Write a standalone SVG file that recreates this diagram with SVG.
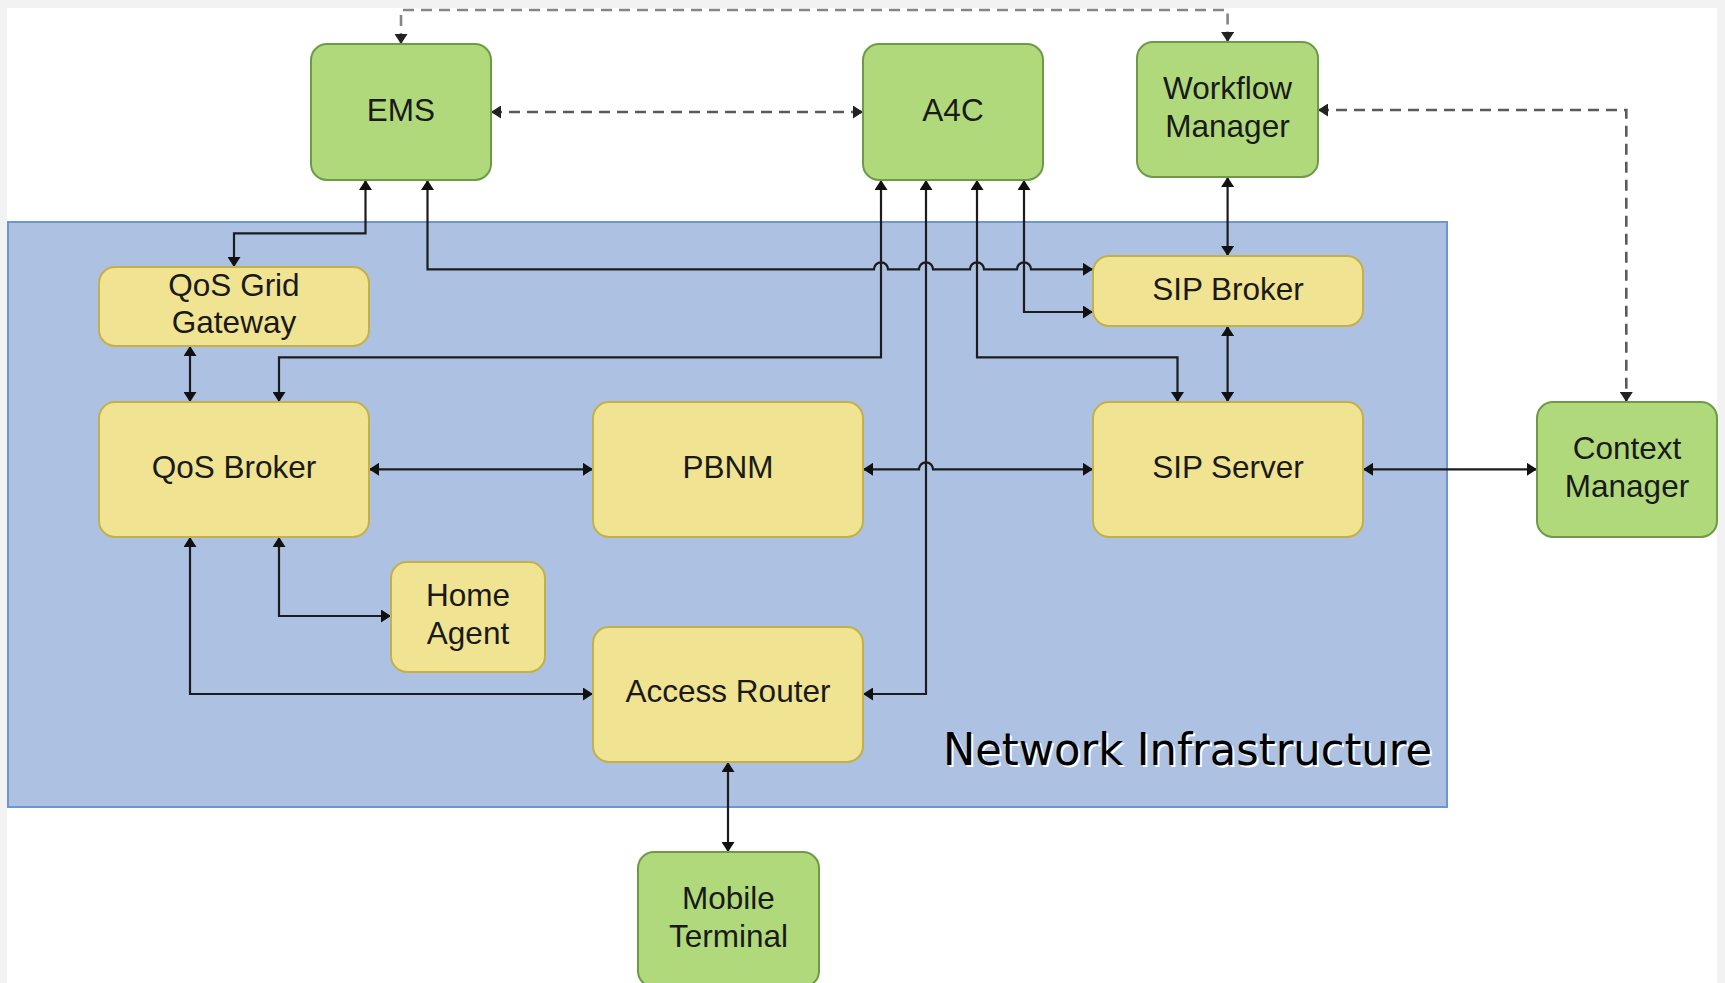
<svg xmlns="http://www.w3.org/2000/svg" width="1725" height="983" viewBox="0 0 1725 983">
  <defs>
    <marker id="arr" markerUnits="userSpaceOnUse" markerWidth="10" markerHeight="13" refX="10" refY="6.5" orient="auto-start-reverse">
      <path d="M0,0 L10,6.5 L0,13 z" fill="#111"/>
    </marker>
    <marker id="arrd" markerUnits="userSpaceOnUse" markerWidth="10" markerHeight="13" refX="10" refY="6.5" orient="auto-start-reverse">
      <path d="M0,0 L10,6.5 L0,13 z" fill="#222"/>
    </marker>
    <style>
      .g rect { fill: #b0d97c; stroke: #6e9a48; stroke-width: 2; }
      .y rect { fill: #f0e391; stroke: #c4b04a; stroke-width: 2; }
      .lbl { font-family: "Liberation Sans", Arial, sans-serif; font-size: 31.5px; fill: #1a1a1a; text-anchor: middle; }
      .c { fill: none; stroke: #1c1c1c; stroke-width: 2.2; marker-start: url(#arr); marker-end: url(#arr); }
      .d { fill: none; stroke: #5a5a5a; stroke-width: 2.6; stroke-dasharray: 11 7; marker-start: url(#arrd); marker-end: url(#arrd); }
    </style>
  </defs>

  <rect x="0" y="0" width="1725" height="983" fill="#f2f2f2"/>
  <rect x="7" y="8" width="1710" height="975" fill="#ffffff"/>

  <g id="network-infrastructure">
    <rect x="8" y="222" width="1439" height="585" fill="#adc2e3" stroke="#6f94d2" stroke-width="2"/>
    <text x="945" y="766.5" font-family="DejaVu Sans, sans-serif" font-size="44" textLength="489" lengthAdjust="spacingAndGlyphs" fill="#ffffff">Network Infrastructure</text>
    <text x="943" y="765" font-family="DejaVu Sans, sans-serif" font-size="44" textLength="489" lengthAdjust="spacingAndGlyphs" fill="#000000">Network Infrastructure</text>
  </g>

  <g id="connectors">
    <path class="d" style="stroke:#858585" d="M401,44 V10 H1227.6 V42"/>
    <path class="d" d="M491,112 H863"/>
    <path class="d" d="M1318,110 H1626.3 V402"/>

    <path class="c" d="M365.5,180 V233.3 H234 V267"/>
    <path class="c" d="M427.5,180 V269.3 H874 a7,7 0 0 1 14,0 H919 a7,7 0 0 1 14,0 H970 a7,7 0 0 1 14,0 H1017 a7,7 0 0 1 14,0 H1093"/>
    <path class="c" d="M881,180 V357.3 H279 V402"/>
    <path class="c" d="M926,180 V694 H863"/>
    <path class="c" d="M977,180 V357.3 H1177.5 V402"/>
    <path class="c" d="M1024,180 V312 H1093"/>
    <path class="c" d="M1227.6,177 V256"/>
    <path class="c" d="M1227.6,326 V402"/>
    <path class="c" d="M190,346 V402"/>
    <path class="c" d="M369,469.3 H593"/>
    <path class="c" d="M863,469.3 H919 a7,7 0 0 1 14,0 H1093"/>
    <path class="c" d="M1363,469.3 H1537"/>
    <path class="c" d="M279,537 V616 H391"/>
    <path class="c" d="M190,537 V694 H593"/>
    <path class="c" d="M728,762 V852"/>
  </g>

  <g id="ems" class="g">
    <rect x="311" y="44" width="180" height="136" rx="16"/>
    <text class="lbl" x="401" y="121">EMS</text>
  </g>
  <g id="a4c" class="g">
    <rect x="863" y="44" width="180" height="136" rx="16"/>
    <text class="lbl" x="953" y="121">A4C</text>
  </g>
  <g id="workflow-manager" class="g">
    <rect x="1137" y="42" width="181" height="135" rx="16"/>
    <text class="lbl" x="1227.5" y="98.5">Workflow</text>
    <text class="lbl" x="1227.5" y="136.5">Manager</text>
  </g>
  <g id="qos-grid-gateway" class="y">
    <rect x="99" y="267" width="270" height="79" rx="16"/>
    <text class="lbl" x="234" y="295.5">QoS Grid</text>
    <text class="lbl" x="234" y="333">Gateway</text>
  </g>
  <g id="sip-broker" class="y">
    <rect x="1093" y="256" width="270" height="70" rx="16"/>
    <text class="lbl" x="1228" y="300">SIP Broker</text>
  </g>
  <g id="qos-broker" class="y">
    <rect x="99" y="402" width="270" height="135" rx="16"/>
    <text class="lbl" x="234" y="478">QoS Broker</text>
  </g>
  <g id="pbnm" class="y">
    <rect x="593" y="402" width="270" height="135" rx="16"/>
    <text class="lbl" x="728" y="478">PBNM</text>
  </g>
  <g id="sip-server" class="y">
    <rect x="1093" y="402" width="270" height="135" rx="16"/>
    <text class="lbl" x="1228" y="478">SIP Server</text>
  </g>
  <g id="context-manager" class="g">
    <rect x="1537" y="402" width="180" height="135" rx="16"/>
    <text class="lbl" x="1627" y="458.5">Context</text>
    <text class="lbl" x="1627" y="496.5">Manager</text>
  </g>
  <g id="home-agent" class="y">
    <rect x="391" y="562" width="154" height="110" rx="16"/>
    <text class="lbl" x="468" y="606">Home</text>
    <text class="lbl" x="468" y="644">Agent</text>
  </g>
  <g id="access-router" class="y">
    <rect x="593" y="627" width="270" height="135" rx="16"/>
    <text class="lbl" x="728" y="702">Access Router</text>
  </g>
  <g id="mobile-terminal" class="g">
    <rect x="638" y="852" width="181" height="135" rx="16"/>
    <text class="lbl" x="728.5" y="908.5">Mobile</text>
    <text class="lbl" x="728.5" y="946.5">Terminal</text>
  </g>
</svg>
